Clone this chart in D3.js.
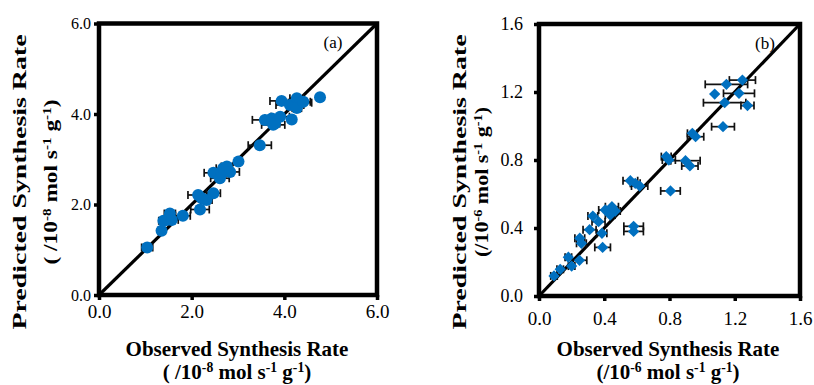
<!DOCTYPE html>
<html>
<head>
<meta charset="utf-8">
<script src="https://cdn.jsdelivr.net/npm/d3@7"></script>
<style>
  body { margin: 0; background: #fff; }
  text { font-family: "Liberation Serif", "Times New Roman", serif; fill: #000; }
</style>
</head>
<body>
<div id="chart"></div>
<script>
// panel (a) - observed vs predicted, 10^-8 mol s-1 g-1
const ticksA = [0, 2, 4, 6];
const obsA  = [1.04, 1.35, 1.39, 1.46, 1.53, 1.57, 1.81, 2.14, 2.22, 2.18, 2.32, 2.47, 2.47, 2.61, 2.65, 2.68, 2.76,
               2.83, 3.01, 3.47, 3.58, 3.73, 3.76, 3.80, 3.91, 4.16, 3.94, 4.12, 4.27, 4.34, 4.27, 4.41, 4.77];
const predA = [1.05, 1.42, 1.64, 1.66, 1.80, 1.66, 1.75, 2.21, 2.14, 1.89, 2.10, 2.25, 2.70, 2.58, 2.69, 2.80, 2.84,
               2.72, 2.95, 3.31, 3.87, 3.90, 3.76, 3.79, 3.94, 3.88, 4.29, 4.20, 4.35, 4.25, 4.13, 4.27, 4.37];
const errA  = [0.12, 0.08, 0.10, 0.00, 0.12, 0.14, 0.16, 0.22, 0.10, 0.20, 0.12, 0.15, 0.20, 0.20, 0.10, 0.15, 0.12,
               0.20, 0.05, 0.25, 0.27, 0.15, 0.25, 0.10, 0.20, 0.05, 0.25, 0.30, 0.15, 0.25, 0.10, 0.15, 0.05];

// panel (b) - observed vs predicted, 10^-6 mol s-1 g-1
const ticksB = [0, 0.4, 0.8, 1.2, 1.6];
const obsB  = [0.092, 0.13, 0.18, 0.20, 0.248, 0.25, 0.26, 0.31, 0.33, 0.365, 0.386, 0.39, 0.406, 0.437, 0.447, 0.468,
               0.58, 0.58, 0.56, 0.59, 0.617, 0.806, 0.78, 0.796, 0.898, 0.925, 0.94, 0.96, 1.128, 1.138, 1.278,
               1.077, 1.226, 1.149, 1.247];
const predB = [0.118, 0.157, 0.228, 0.176, 0.21, 0.34, 0.31, 0.39, 0.47, 0.437, 0.369, 0.286, 0.506, 0.476, 0.525, 0.50,
               0.41, 0.38, 0.678, 0.663, 0.647, 0.618, 0.82, 0.80, 0.796, 0.765, 0.957, 0.937, 0.996, 1.137, 1.12,
               1.188, 1.192, 1.245, 1.27];
const errB  = [0.02, 0.02, 0.02, 0.02, 0.045, 0.03, 0.03, 0.04, 0.03, 0.04, 0.03, 0.048, 0.04, 0.03, 0.04, 0.03,
               0.06, 0.06, 0.045, 0.03, 0.05, 0.06, 0.03, 0.04, 0.09, 0.05, 0.03, 0.05, 0.07, 0.13, 0.04,
               0.00, 0.095, 0.13, 0.08];

const blue = "#0070c0";

let svg = d3.select("#chart")
  .append("svg")
  .attr("width", 814)
  .attr("height", 385);

function unitLine(sel, exp, lead) {
  // "( /10^-8 mol s^-1 g^-1)"
  const parts = [[lead, 0], [exp, 1], [" mol s", 0], ["-1", 1], [" g", 0], ["-1", 1], [")", 0]];
  let up = false;
  parts.forEach(p => {
    const t = sel.append("tspan").text(p[0]);
    if (p[1]) { t.attr("font-size", "0.65em").attr("dy", "-0.5em"); up = true; }
    else if (up) { t.attr("dy", "0.33em"); up = false; }
  });
}

function drawPanel(c) {
  let x = d3.scaleLinear().domain(c.domain).range(c.xr);
  let y = d3.scaleLinear().domain(c.domain).range(c.yr);
  let g = svg.append("g");

  // 1:1 line
  g.append("line")
    .attr("x1", x(c.domain[0])).attr("y1", y(c.domain[0]))
    .attr("x2", x(c.domain[1])).attr("y2", y(c.domain[1]))
    .attr("stroke", "#000").attr("stroke-width", 3.2);

  // axes
  let xa = g.append("g").attr("transform", "translate(0," + c.yr[0] + ")")
    .call(d3.axisBottom(x).tickValues(c.ticks).tickFormat(c.fmt).tickSizeOuter(0).tickSizeInner(5).tickPadding(c.xpad));
  let ya = g.append("g").attr("transform", "translate(" + c.xr[0] + ",0)")
    .call(d3.axisLeft(y).tickValues(c.ticks).tickFormat(c.fmt).tickSizeOuter(0).tickSizeInner(5).tickPadding(c.ypad));
  [xa, ya].forEach(a => {
    a.select(".domain").remove();
    a.selectAll("line").attr("stroke", "#000").attr("stroke-width", 3.5);
    a.selectAll("text").style("font-family", "Liberation Serif").attr("fill", "#000");
  });
  xa.selectAll("text").style("font-size", c.xfs + "px");
  ya.selectAll("text").style("font-size", c.yfs + "px");

  // frame
  g.append("rect")
    .attr("x", c.xr[0]).attr("y", c.yr[1])
    .attr("width", c.xr[1] - c.xr[0]).attr("height", c.yr[0] - c.yr[1])
    .attr("fill", "none").attr("stroke", "#000").attr("stroke-width", 4.5);

  // horizontal error bars
  let eb = g.selectAll(".eb").data(c.obs.map((d, i) => i).filter(i => c.err[i] > 0)).enter().append("g")
    .attr("stroke", "#111").attr("stroke-width", 1.7);
  eb.append("line")
    .attr("x1", i => x(c.obs[i] - c.err[i])).attr("x2", i => x(c.obs[i] + c.err[i]))
    .attr("y1", i => y(c.pred[i])).attr("y2", i => y(c.pred[i]));
  [-1, 1].forEach(s => {
    eb.append("line")
      .attr("x1", i => x(c.obs[i] + s * c.err[i])).attr("x2", i => x(c.obs[i] + s * c.err[i]))
      .attr("y1", i => y(c.pred[i]) - 4).attr("y2", i => y(c.pred[i]) + 4);
  });

  // markers
  if (c.marker === "circle") {
    g.selectAll(".pt").data(c.obs).enter().append("circle")
      .attr("cx", d => x(d)).attr("cy", (d, i) => y(c.pred[i]))
      .attr("r", 6).attr("fill", blue);
  } else {
    let sym = d3.symbol().type(d3.symbolSquare).size(64);
    g.selectAll(".pt").data(c.obs).enter().append("path")
      .attr("d", sym)
      .attr("transform", (d, i) => "translate(" + x(d) + "," + y(c.pred[i]) + ") rotate(45)")
      .attr("fill", blue);
  }

  // panel tag
  g.append("text").attr("x", c.tag[0]).attr("y", c.tag[1])
    .attr("text-anchor", "middle").style("font-size", "17px").text(c.label);

  // axis titles
  let xt = c.xt;
  g.append("text").attr("x", xt[0]).attr("y", xt[1]).attr("text-anchor", "middle")
    .style("font-size", "21px").style("font-weight", "bold").text("Observed Synthesis Rate");
  unitLine(g.append("text").attr("x", xt[0]).attr("y", xt[2]).attr("text-anchor", "middle")
    .style("font-size", "21px").style("font-weight", "bold"), c.exp, c.lead);

  let yt = c.yt;
  g.append("text").attr("transform", "translate(" + yt[0] + "," + yt[2] + ") rotate(-90)")
    .attr("text-anchor", "middle").attr("textLength", yt[3]).attr("lengthAdjust", "spacingAndGlyphs")
    .style("font-size", "19px").style("font-weight", "bold").text("Predicted Synthesis Rate");
  unitLine(g.append("text").attr("transform", "translate(" + yt[1] + "," + yt[2] + ") rotate(-90)")
    .attr("text-anchor", "middle").attr("textLength", yt[4]).attr("lengthAdjust", "spacingAndGlyphs")
    .style("font-size", "19px").style("font-weight", "bold"), c.exp, c.lead);
}

drawPanel({
  domain: [0, 6], ticks: ticksA, fmt: d3.format(".1f"),
  xr: [99, 377], yr: [295, 23.5],
  xfs: 19, yfs: 16, xpad: 5, ypad: 3,
  obs: obsA, pred: predA, err: errA, marker: "circle",
  label: "(a)", tag: [333, 48],
  xt: [237, 356, 379], yt: [26, 57, 182, 295, 165],
  exp: "-8", lead: "( /10"
});

drawPanel({
  domain: [0, 1.6], ticks: ticksB, fmt: d3.format(".1f"),
  xr: [539, 800], yr: [296, 24],
  xfs: 19, yfs: 18, xpad: 11, ypad: 11,
  obs: obsB, pred: predB, err: errB, marker: "diamond",
  label: "(b)", tag: [765, 49],
  xt: [668, 356, 379], yt: [466, 488, 182, 295, 150],
  exp: "-6", lead: "(/10"
});
</script>
</body>
</html>
